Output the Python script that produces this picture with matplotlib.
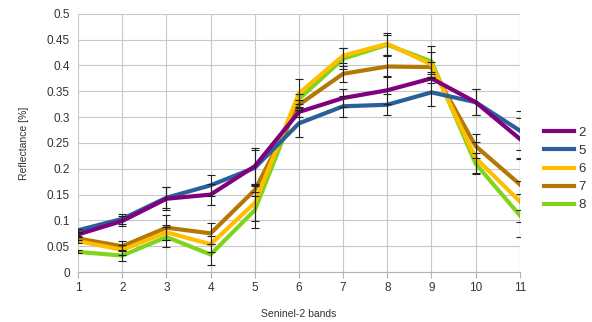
import numpy as np
import matplotlib
matplotlib.use('Agg')
import matplotlib.pyplot as plt
from matplotlib.ticker import FuncFormatter

plt.rcParams['font.family'] = ['Liberation Sans', 'DejaVu Sans']

# Sentinel-2 band numbers
bands = [1, 2, 3, 4, 5, 6, 7, 8, 9, 10, 11]

# mean reflectance per class
s2 = [0.073, 0.099, 0.142, 0.150, 0.205, 0.310, 0.337, 0.352, 0.375, 0.329, 0.258]
s5 = [0.081, 0.103, 0.144, 0.168, 0.202, 0.288, 0.321, 0.324, 0.348, 0.329, 0.274]
s6 = [0.060, 0.043, 0.077, 0.054, 0.134, 0.346, 0.419, 0.442, 0.402, 0.221, 0.137]
s7 = [0.065, 0.050, 0.086, 0.075, 0.159, 0.324, 0.384, 0.398, 0.397, 0.244, 0.170]
s8 = [0.039, 0.032, 0.068, 0.034, 0.120, 0.335, 0.413, 0.440, 0.408, 0.210, 0.110]

# error bar half-widths (estimated)
e2 = [0.003, 0.010, 0.022, 0.020, 0.035, 0.010, 0.018, 0.027, 0.008, 0.025, 0.040]
e5 = [0.003, 0.010, 0.020, 0.020, 0.035, 0.026, 0.020, 0.020, 0.027, 0.025, 0.037]
e6 = [0.003, 0.010, 0.015, 0.015, 0.035, 0.028, 0.015, 0.021, 0.025, 0.030, 0.040]
e7 = [0.003, 0.010, 0.024, 0.020, 0.012, 0.010, 0.015, 0.020, 0.010, 0.024, 0.050]
e8 = [0.003, 0.010, 0.020, 0.020, 0.035, 0.010, 0.020, 0.020, 0.030, 0.020, 0.042]

labels = ['2', '5', '6', '7', '8']
colors = ['#800080', '#2A6099', '#FFBF00', '#B47804', '#81D41A']
series = [s2, s5, s6, s7, s8]
errors = [e2, e5, e6, e7, e8]

fig = plt.figure(figsize=(5.92, 3.22), dpi=100)
ax = fig.add_axes([0.132, 0.155, 0.746, 0.802])

# draw green first so purple ends on top
handles = {}
for i in [4, 3, 2, 1, 0]:
    h, = ax.plot(bands, series[i], color=colors[i], lw=3, label=labels[i],
                 solid_joinstyle='round', zorder=3 + (4 - i))
    ax.errorbar(bands, series[i], yerr=errors[i], fmt='none', ecolor='#222222',
                elinewidth=0.8, capsize=3, capthick=0.8, zorder=10)
    handles[i] = h

ax.set_xlim(1, 11)
ax.set_ylim(0, 0.5)
ax.set_xticks(bands)
ax.set_yticks(np.arange(0, 0.501, 0.05))
ax.yaxis.set_major_formatter(FuncFormatter(lambda v, p: ('%.2f' % v).rstrip('0').rstrip('.')))

ax.grid(True, color='#c8c8c8', lw=0.8)
ax.set_axisbelow(True)
for side in ['top', 'right', 'left']:
    ax.spines[side].set_visible(False)
ax.spines['bottom'].set_color('#b3b3b3')
ax.tick_params(axis='y', length=0, labelsize=8.5, colors='#333333', pad=6)
ax.tick_params(axis='x', length=4, color='#b3b3b3', labelsize=8.5, labelcolor='#333333', pad=3)

ax.set_xlabel('Seninel-2 bands', fontsize=7.5, color='#333333', labelpad=11)
ax.set_ylabel('Reflectance [%]', fontsize=7.5, color='#333333', labelpad=13)

leg = fig.legend([handles[i] for i in range(5)], labels, loc='center left',
                 bbox_to_anchor=(544 / 592, 1 - 169 / 322), frameon=False,
                 fontsize=9.5, borderpad=0, borderaxespad=0,
                 handlelength=2.3, handletextpad=0.3, labelspacing=0.45)
for t in leg.get_texts():
    t.set_color('#333333')

fig.savefig('out.png', dpi=100)
